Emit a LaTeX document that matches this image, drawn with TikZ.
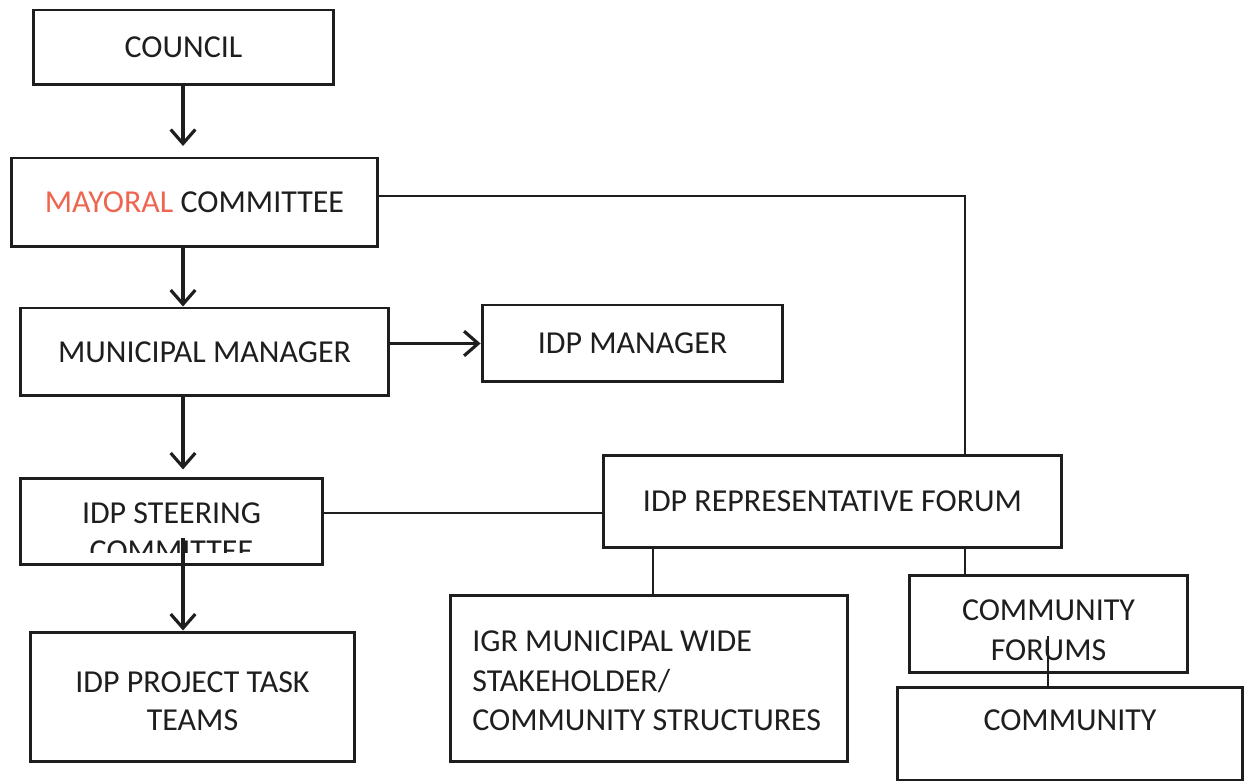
\documentclass[tikz,border=0pt]{standalone}
\usepackage{fontspec}
\setmainfont{Carlito}
\usetikzlibrary{arrows.meta}
\definecolor{ink}{HTML}{1E1E1E}
\definecolor{mayorred}{HTML}{EE6650}
\begin{document}
\begin{tikzpicture}[x=0.02cm,y=-0.02cm,
  box/.style={draw=ink,line width=1.7pt,rectangle,inner sep=0pt,align=center,
    text=ink,font=\fontsize{18.2}{21.5}\selectfont},
  thin/.style={draw=ink,line width=0.9pt},
  arr/.style={draw=ink,line width=1.8pt,-{Straight Barb[length=8pt,width=14pt,line width=1.8pt]}},
  lbl/.style={text=ink,font=\fontsize{18.2}{21.5}\selectfont,inner sep=0pt}]
\useasboundingbox (0,0) rectangle (1247,783);
\fill[white] (0,0) rectangle (1247,783);
% boxes
\node[box,minimum width=6.02cm,minimum height=1.50cm] (council) at (183.5,47.5) {COUNCIL};
\node[box,minimum width=7.34cm,minimum height=1.78cm] (mayor) at (194.5,202.5) {\textcolor{mayorred}{MAYORAL} COMMITTEE};
\node[box,minimum width=7.38cm,minimum height=1.76cm] (mm) at (204.5,352) {MUNICIPAL MANAGER};
\node[box,minimum width=6.02cm,minimum height=1.54cm] (idpm) at (632.5,343.5) {IDP MANAGER};
\node[box,minimum width=6.06cm,minimum height=1.74cm] (steer) at (171.5,521.5) {};
\begin{scope}
  \clip (20,470) rectangle (323,552);
  \node[lbl,align=center] (steertext) at (171.5,532) {IDP STEERING\\COMMITTEE};
\end{scope}
\node[box,minimum width=6.50cm,minimum height=2.60cm] (task) at (192.5,697) {};
\node[lbl,align=center] (tasktext) at (192.5,701) {IDP PROJECT TASK\\TEAMS};
\node[box,minimum width=9.18cm,minimum height=1.86cm] (forum) at (832.5,501.5) {IDP REPRESENTATIVE FORUM};
\node[box,minimum width=7.96cm,minimum height=3.34cm] (igr) at (649,678.5) {};
\node[lbl,align=left,anchor=west,font=\fontsize{18.2}{22.5}\selectfont] (igrtext) at (472,681) {IGR MUNICIPAL WIDE\\STAKEHOLDER/\\COMMUNITY STRUCTURES};
\node[box,minimum width=5.58cm,minimum height=1.96cm] (cforum) at (1048.5,624) {};
\node[lbl,align=center,font=\fontsize{18.2}{22.5}\selectfont] (cforumtext) at (1048.5,630) {COMMUNITY\\FORUMS};
\node[box,minimum width=6.92cm,minimum height=1.86cm,text depth=15pt] (comm) at (1070,733.5) {COMMUNITY};
% helper coordinates
\coordinate (xa) at (183,0);
\coordinate (xl) at (653,0);
\coordinate (xr) at (965,0);
\coordinate (xc) at (1048,0);
% arrows
\draw[arr,shorten >=6pt] (xa |- council.south) -- (xa |- mayor.north);
\draw[arr] (xa |- mayor.south) -- (xa |- mm.north);
\draw[arr] (mm.east |- idpm.west) -- (idpm.west);
\draw[arr,shorten >=4pt] (xa |- mm.south) -- (xa |- steer.north);
\draw[arr] ([yshift=16pt]xa |- steer.south) -- (xa |- task.north);
% thin connectors
\draw[thin] (mayor.east |- 0,196) -| (xr |- forum.north);
\draw[thin] (steer.east |- 0,513) -- (forum.west |- 0,513);
\draw[thin] (xl |- forum.south) -- (xl |- igr.north);
\draw[thin] (xr |- forum.south) -- (xr |- cforum.north);
\draw[thin] ([yshift=22pt]xc |- cforum.south) -- (xc |- comm.north);
\end{tikzpicture}
\end{document}
